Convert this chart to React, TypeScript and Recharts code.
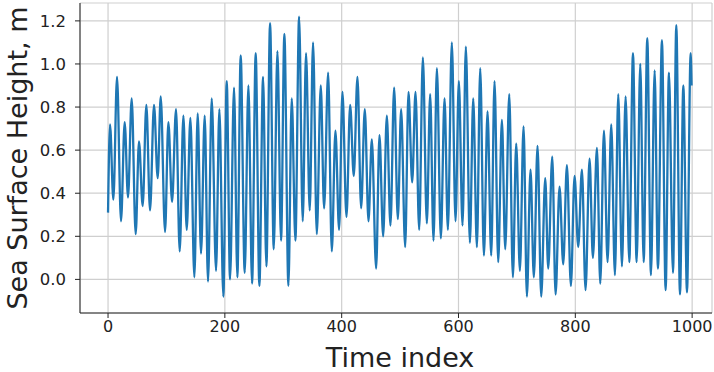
import { LineChart, Line, XAxis, YAxis, CartesianGrid } from "recharts";

// time index of each high / low water
const timeIndex = [
  0, 3.4, 9.1, 15.4, 22.2, 28.5, 34.2, 40.5, 47.3, 53.0, 59.3, 65.6, 71.9, 78.7, 85.0, 90.2,
  97.6, 103.3, 109.6, 116.4, 122.7, 129.0, 134.7, 141.0, 147.8, 153.5, 159.2, 165.5, 171.2,
  177.5, 184.9, 190.6, 197.4, 203.2, 208.9, 215.7, 221.4, 227.1, 234.0, 240.3, 246.6, 252.8,
  259.1, 265.4, 271.1, 277.4, 283.7, 290.0, 296.2, 301.9, 308.8, 314.5, 320.8, 327.1, 333.3,
  339.0, 345.3, 351.0, 357.4, 364.2, 369.9, 376.8, 383.1, 389.3, 395.6, 401.3, 408.2, 414.5,
  420.7, 427.0, 433.3, 439.6, 445.9, 451.6, 459.0, 464.7, 471.0, 477.3, 483.5, 489.8, 496.1,
  501.8, 508.7, 514.4, 520.7, 526.4, 532.7, 539.0, 545.8, 551.5, 557.2, 563.0, 569.8, 576.1,
  581.8, 588.6, 594.9, 600.6, 606.9, 612.6, 619.5, 625.2, 631.5, 637.2, 643.5, 649.7, 656.0,
  661.7, 668.0, 674.3, 680.0, 686.9, 693.1, 698.8, 705.1, 711.4, 717.1, 723.3, 729.0, 735.3,
  741.6, 748.5, 753.6, 760.5, 766.2, 773.0, 779.3, 785.6, 792.4, 798.7, 805.0, 811.3, 817.5,
  824.4, 830.1, 837.0, 842.7, 849.0, 855.2, 861.5, 867.8, 873.5, 879.8, 886.1, 892.4, 898.7,
  905.0, 911.2, 917.0, 923.2, 929.5, 935.8, 941.5, 948.3, 954.6, 960.3, 967.2, 972.9, 979.2,
  984.9, 991.2, 997.4, 999,
];

// sea surface height (m) at those times
const seaHeight = [
  0.31, 0.72, 0.37, 0.94, 0.27, 0.73, 0.38, 0.84, 0.21, 0.64, 0.34, 0.81, 0.32, 0.81, 0.47, 0.85,
  0.22, 0.73, 0.36, 0.79, 0.13, 0.76, 0.23, 0.75, 0.01, 0.77, 0.12, 0.76, -0.01,
  0.84, 0.04, 0.79, -0.08, 0.92, 0.0, 0.89, 0.01, 1.04, 0.03, 0.9, -0.02, 1.05,
  -0.03, 0.94, 0.06, 1.19, 0.14, 1.06, 0.18, 1.14, -0.03, 0.84, 0.18, 1.22, 0.27,
  1.05, 0.32, 1.1, 0.21, 0.9, 0.33, 0.96, 0.13, 0.69, 0.23, 0.87, 0.29, 0.81,
  0.48, 0.94, 0.33, 0.79, 0.27, 0.65, 0.05, 0.67, 0.2, 0.76, 0.25, 0.89, 0.28,
  0.79, 0.15, 0.87, 0.45, 0.87, 0.23, 1.03, 0.26, 0.86, 0.18, 0.98, 0.19, 0.84,
  0.23, 1.1, 0.27, 0.92, 0.25, 1.08, 0.17, 0.84, 0.15, 0.98, 0.11, 0.78, 0.11,
  0.92, 0.08, 0.74, 0.14, 0.86, 0.01, 0.63, 0.04, 0.71, -0.08, 0.51, 0.01, 0.62,
  -0.08, 0.47, 0.05, 0.57, -0.07, 0.43, 0.07, 0.53, -0.03, 0.48, 0.15, 0.51, -0.05,
  0.56, 0.1, 0.61, -0.02, 0.69, 0.08, 0.72, 0.02, 0.86, 0.06, 0.85, 0.08, 1.05,
  0.08, 1.0, 0.08, 1.12, 0.02, 0.97, 0.05, 1.11, -0.05, 0.96, 0.03, 1.18, -0.07,
  0.9, -0.06, 1.05, 0.9,
];

const xTicks = [0, 200, 400, 600, 800, 1000];
const yTicks = [0, 0.2, 0.4, 0.6, 0.8, 1.0, 1.2];

const chartData = timeIndex.map((t, i) => ({ t, h: seaHeight[i] }));

const font = "'DejaVu Sans', Verdana, sans-serif";
const spine = "#222222";

export default function App() {
  return (
    <div style={{ position: "absolute", left: 0, top: 0, background: "#fff" }}>
      <LineChart
        width={714}
        height={372}
        data={chartData}
        margin={{ top: 3, right: 2, bottom: 0, left: 0 }}
      >
        <CartesianGrid stroke="#cfcfcf" strokeWidth={1.2} />
        <XAxis
          dataKey="t"
          type="number"
          domain={[-48, 1034]}
          ticks={xTicks}
          allowDataOverflow
          height={59}
          stroke={spine}
          tickSize={5}
          tickMargin={3}
          tick={{ fill: "#222", fontSize: 16, fontFamily: font }}
          label={{
            value: "Time index",
            position: "insideBottom",
            offset: 5,
            dx: 4,
            style: { fill: "#222", fontSize: 27, fontFamily: font },
          }}
        />
        <XAxis xAxisId="top" orientation="top" dataKey="t" type="number" domain={[-48, 1034]} height={0} tick={false} tickLine={false} stroke={spine} />
        <YAxis
          type="number"
          domain={[-0.156, 1.283]}
          ticks={yTicks}
          allowDataOverflow
          width={80}
          stroke={spine}
          tickSize={5}
          tickMargin={9}
          tickFormatter={(v: number) => v.toFixed(1)}
          tick={{ fill: "#222", fontSize: 16.5, fontFamily: font }}
          label={{
            value: "Sea Surface Height, m",
            angle: -90,
            position: "center",
            dx: -23,
            style: { fill: "#222", fontSize: 27, fontFamily: font },
          }}
        />
        <YAxis yAxisId="right" orientation="right" width={0} tick={false} tickLine={false} stroke={spine} />
        <Line
          dataKey="h"
          type="monotone"
          stroke="#1f77b4"
          strokeWidth={2.3}
          dot={false}
          isAnimationActive={false}
        />
      </LineChart>
    </div>
  );
}
